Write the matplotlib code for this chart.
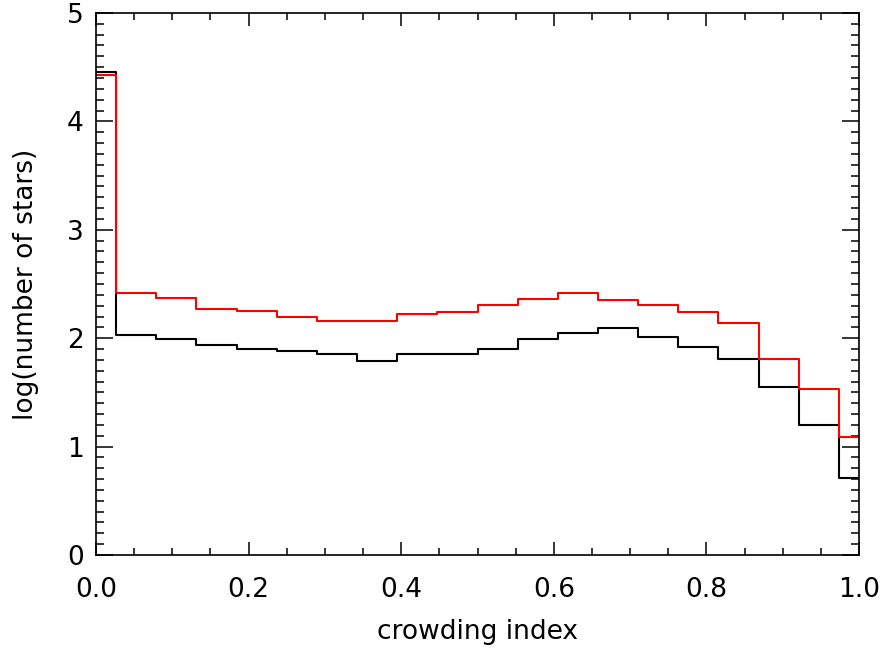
import numpy as np
import matplotlib
matplotlib.use("Agg")
import matplotlib.pyplot as plt
from matplotlib.ticker import MultipleLocator

# bin centres: 20 bins of width 1/19 over the crowding index
crowd_index = [k / 19 for k in range(20)]

# log(number of stars) per bin
all_stars = [4.46, 2.03, 1.99, 1.94, 1.90, 1.88, 1.85, 1.79, 1.85, 1.85,
             1.90, 1.99, 2.05, 2.09, 2.01, 1.92, 1.81, 1.55, 1.20, 0.71]
red_stars = [4.43, 2.42, 2.37, 2.27, 2.25, 2.20, 2.16, 2.16, 2.22, 2.24,
             2.31, 2.36, 2.42, 2.35, 2.31, 2.24, 2.14, 1.81, 1.53, 1.09]

plt.rcParams['font.family'] = 'DejaVu Sans'

fig = plt.figure(figsize=(8.86, 6.48), dpi=100)
ax = fig.add_axes([0.1084, 0.1435, 0.8611, 0.8365])

ax.step(crowd_index, all_stars, where='mid', color='black', lw=1.5)
ax.step(crowd_index, red_stars, where='mid', color='#ff0000', lw=1.5)

ax.set_xlim(0, 1)
ax.set_ylim(0, 5)

ax.xaxis.set_major_locator(MultipleLocator(0.2))
ax.xaxis.set_minor_locator(MultipleLocator(0.05))
ax.yaxis.set_major_locator(MultipleLocator(1))
ax.yaxis.set_minor_locator(MultipleLocator(0.1))
ax.xaxis.set_major_formatter(matplotlib.ticker.FormatStrFormatter('%.1f'))

ax.tick_params(axis='both', which='both', direction='in', top=True, right=True,
               width=1.1, labelsize=19, color='black')
ax.tick_params(axis='x', which='major', length=9.5, pad=16)
ax.tick_params(axis='x', which='minor', length=5)
ax.tick_params(axis='y', which='major', length=12.5, pad=9)
ax.tick_params(axis='y', which='minor', length=6)

for s in ax.spines.values():
    s.set_linewidth(1.2)

ax.set_xlabel('crowding index', fontsize=19, labelpad=11)
ax.set_ylabel('log(number of stars)', fontsize=19, labelpad=20)

fig.savefig('out.png', dpi=100)
